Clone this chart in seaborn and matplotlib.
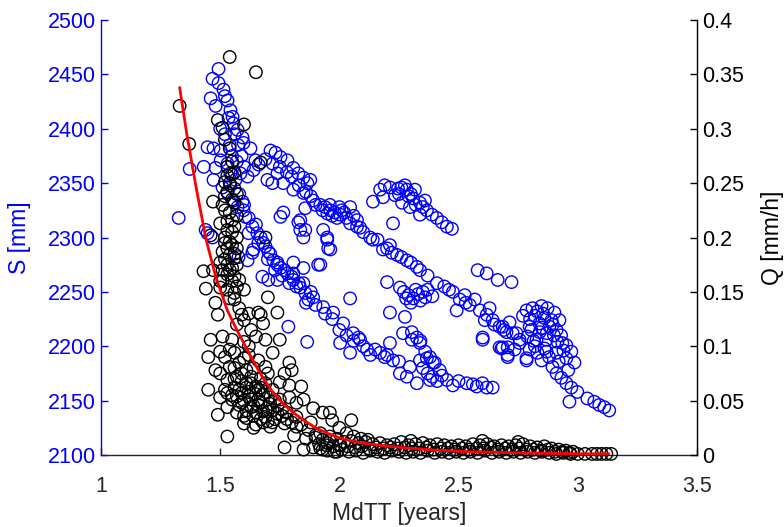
import matplotlib
matplotlib.use("Agg")
import matplotlib.pyplot as plt
from matplotlib.ticker import FormatStrFormatter
import numpy as np
import pandas as pd
import seaborn as sns

# ---- storage S [mm] versus median transit time (left axis) ----
peak_mdtt = [1.493, 1.468, 1.493, 1.514, 1.460, 1.481, 1.531, 1.543, 1.552, 1.556, 1.573, 1.594,
             1.598, 1.627, 1.648, 1.661, 1.447, 1.472, 1.502, 1.431, 1.481, 1.502, 1.531, 1.543,
             1.564, 1.585, 1.615, 1.640, 1.520, 1.535, 1.560, 1.575, 1.590, 1.600, 1.372, 1.326,
             1.500, 1.520, 1.540, 1.550, 1.570]
peak_s = [2455, 2446, 2442, 2436, 2428, 2421, 2426, 2417, 2411, 2405, 2399, 2392,
          2387, 2382, 2371, 2367, 2383, 2382, 2380, 2365, 2364, 2371, 2368, 2359,
          2353, 2359, 2356, 2362, 2430, 2410, 2395, 2385, 2375, 2365, 2363, 2318,
          2400, 2395, 2385, 2375, 2370]

upper_mdtt = [1.711, 1.732, 1.753, 1.782, 1.807, 1.828, 1.849, 1.866, 1.719, 1.740, 1.878, 1.890,
              1.920, 1.940, 1.962, 1.980, 2.003, 2.020, 2.045, 2.045, 2.074, 1.857, 1.836, 1.857,
              1.932, 1.949, 1.953, 1.911, 2.087, 2.074, 2.129, 2.183, 2.242, 2.283, 2.325, 2.212,
              2.160, 1.900, 1.930, 1.950, 1.970, 1.990, 2.010, 2.030, 2.060, 1.960, 2.000,
              1.690, 1.720, 1.750, 1.780, 1.800, 1.830, 1.860, 1.880, 2.100, 2.140, 2.200,
              2.260, 2.300, 2.220]
upper_s = [2380, 2378, 2374, 2371, 2364, 2359, 2355, 2350, 2350, 2359, 2353, 2334,
           2330, 2328, 2325, 2323, 2321, 2323, 2328, 2313, 2316, 2327, 2316, 2307,
           2307, 2300, 2290, 2275, 2309, 2310, 2300, 2289, 2284, 2279, 2273, 2293,
           2298, 2330, 2325, 2322, 2320, 2318, 2325, 2318, 2320, 2330, 2328,
           2372, 2368, 2365, 2360, 2356, 2348, 2342, 2338, 2305, 2298, 2290,
           2282, 2277, 2286]

ridge_mdtt = [2.141, 2.171, 2.183, 2.212, 2.246, 2.283, 2.309, 2.338, 2.367, 2.388, 2.409, 2.430,
              2.451, 2.472, 2.225, 2.263, 2.296, 2.338, 2.233, 2.275, 2.317, 2.359, 2.190, 2.250,
              2.290, 2.320, 2.260, 2.300, 2.350]
ridge_s = [2333, 2344, 2337, 2346, 2345, 2344, 2336, 2332, 2325, 2321, 2318, 2314,
           2310, 2308, 2313, 2332, 2328, 2321, 2339, 2348, 2344, 2334, 2348, 2340,
           2338, 2330, 2346, 2340, 2328]

middle_mdtt = [2.338, 2.409, 2.476, 2.505, 2.547, 2.589, 2.618, 2.643, 2.672, 2.701, 2.727, 2.756,
               2.492, 2.601, 2.672, 2.706, 2.580, 2.618, 2.664, 2.722, 2.526, 2.568, 2.630, 2.610,
               2.650, 2.370, 2.440, 2.460, 2.530, 2.690]
middle_s = [2270, 2258, 2250, 2243, 2238, 2233, 2229, 2224, 2218, 2213, 2212, 2206,
            2233, 2208, 2199, 2192, 2270, 2267, 2261, 2259, 2247, 2243, 2235, 2224,
            2220, 2265, 2255, 2252, 2240, 2215]

right_mdtt = [2.785, 2.810, 2.848, 2.873, 2.902, 2.923, 2.911, 2.881, 2.839, 2.798, 2.789, 2.827,
              2.869, 2.915, 2.952, 2.973, 2.986, 2.952, 2.911, 2.869, 2.831, 2.798, 2.785, 2.848,
              2.894, 2.911, 2.931, 2.952, 2.973, 2.998, 3.040, 3.069, 3.090, 3.111, 3.132, 2.965,
              2.714, 2.685, 2.743, 2.756, 2.706, 2.706, 2.680, 2.735, 2.820, 2.860, 2.890, 2.840,
              2.870, 2.900, 2.930, 2.940, 2.820, 2.860, 2.880, 2.920, 2.960, 2.800, 2.770,
              2.830, 2.855, 2.895, 2.935, 2.805, 2.815, 2.850]
right_s = [2233, 2235, 2237, 2235, 2231, 2224, 2215, 2218, 2221, 2218, 2209, 2206,
           2206, 2204, 2201, 2195, 2185, 2189, 2194, 2195, 2194, 2197, 2189, 2187,
           2181, 2175, 2171, 2166, 2162, 2158, 2152, 2149, 2146, 2144, 2141, 2149,
           2222, 2218, 2212, 2203, 2199, 2190, 2198, 2197, 2228, 2226, 2224, 2213,
           2212, 2210, 2210, 2196, 2200, 2198, 2190, 2186, 2178, 2225, 2228,
           2232, 2230, 2220, 2203, 2215, 2205, 2217]

lower_mdtt = [1.472, 1.531, 1.573, 1.606, 1.635, 1.656, 1.681, 1.702, 1.723, 1.753, 1.782, 1.807,
              1.836, 1.857, 1.870, 1.447, 1.468, 1.439, 1.577, 1.615, 1.635, 1.677, 1.702, 1.740,
              1.753, 1.765, 1.828, 1.836, 1.807, 1.849, 1.807, 1.849, 1.765, 1.698, 1.510, 1.543,
              1.556, 1.594, 1.598, 1.619, 1.640, 1.740, 1.807, 1.849, 1.890, 1.932, 1.974, 2.016,
              2.058, 2.087, 1.920, 2.045, 1.786, 1.865, 1.849, 1.949, 1.962, 2.003, 2.045, 2.116,
              2.171, 2.225, 2.254, 2.296, 2.338, 2.367, 2.392, 2.421, 2.325, 2.451, 2.476, 2.534,
              2.576, 2.618, 2.643, 2.212, 2.304, 2.338, 2.601, 2.685, 2.785, 2.380, 2.283, 1.660,
              1.700, 1.730, 1.760, 1.790, 1.820, 1.860, 1.880, 1.900, 1.940, 1.970, 2.000, 2.030,
              2.060, 2.100, 2.130, 2.190, 1.580, 1.600, 1.620, 1.650, 1.670, 1.690, 1.710, 1.740,
              1.770, 1.800, 1.830, 2.080, 2.150, 2.200, 2.250, 2.430, 2.500, 2.560, 2.600]
lower_s = [2353, 2341, 2328, 2319, 2310, 2304, 2295, 2287, 2279, 2272, 2267, 2261,
           2254, 2249, 2243, 2304, 2300, 2307, 2282, 2279, 2286, 2264, 2261, 2261,
           2319, 2323, 2314, 2307, 2277, 2272, 2344, 2341, 2350, 2353, 2346, 2348,
           2334, 2333, 2325, 2304, 2289, 2277, 2267, 2258, 2245, 2236, 2231, 2221,
           2212, 2206, 2275, 2244, 2218, 2204, 2300, 2298, 2289, 2203, 2194, 2197,
           2194, 2187, 2175, 2181, 2187, 2189, 2185, 2178, 2166, 2169, 2164, 2166,
           2163, 2162, 2162, 2203, 2206, 2203, 2206, 2199, 2187, 2169, 2172, 2295,
           2280, 2270, 2265, 2258, 2255, 2240, 2250, 2238, 2230, 2225, 2215, 2210,
           2205, 2200, 2192, 2190, 2340, 2330, 2318, 2312, 2300, 2292, 2285, 2275,
           2270, 2264, 2258, 2208, 2197, 2192, 2186, 2173, 2168, 2165, 2166]

blob_mdtt = [2.254, 2.270, 2.290, 2.310, 2.330, 2.350, 2.370, 2.390, 2.300, 2.340, 2.200, 2.212,
             2.275, 2.267, 2.304, 2.325, 2.340, 2.360, 2.380, 2.400, 2.350, 2.370, 2.390, 2.410,
             2.280, 2.320, 2.360]
blob_s = [2254, 2250, 2247, 2244, 2248, 2250, 2252, 2246, 2240, 2242, 2259, 2231,
          2227, 2212, 2213, 2208, 2205, 2195, 2190, 2185, 2180, 2175, 2172, 2168,
          2244, 2252, 2245]

# ---- discharge Q [mm/h] versus median transit time (right axis) ----
qcol_mdtt = [1.54, 1.65, 1.33, 1.49, 1.51, 1.60, 1.37, 1.54, 1.67, 1.53, 1.55, 1.52,
             1.53, 1.47, 1.51, 1.56, 1.54, 1.55, 1.50, 1.53, 1.55, 1.46, 1.69, 1.54,
             1.55, 1.51, 1.54, 1.56, 1.50, 1.53, 1.55, 1.51, 1.43, 1.47, 1.53, 1.56,
             1.58, 1.44, 1.50, 1.53, 1.56, 1.60, 1.54, 1.56, 1.48, 1.58, 1.62, 1.66,
             1.49, 1.74, 1.59, 1.60, 1.67, 1.68, 1.57, 1.63, 1.70, 1.52, 1.56, 1.52,
             1.57, 1.50, 1.57, 1.52, 1.55, 1.53, 1.56, 1.54, 1.57, 1.55, 1.52, 1.57,
             1.53, 1.56, 1.52, 1.57, 1.53, 1.56, 1.52, 1.54, 1.57, 1.55, 1.51]
qcol = [0.366, 0.352, 0.321, 0.308, 0.301, 0.304, 0.286, 0.282, 0.269, 0.257, 0.258, 0.251,
        0.242, 0.233, 0.230, 0.232, 0.223, 0.216, 0.213, 0.207, 0.205, 0.202, 0.200, 0.196,
        0.193, 0.187, 0.184, 0.181, 0.177, 0.175, 0.172, 0.170, 0.169, 0.170, 0.166, 0.164,
        0.161, 0.153, 0.154, 0.152, 0.149, 0.152, 0.144, 0.143, 0.140, 0.135, 0.130, 0.131,
        0.129, 0.131, 0.129, 0.124, 0.129, 0.121, 0.120, 0.115, 0.145, 0.238, 0.245, 0.195,
        0.190, 0.160, 0.155, 0.290, 0.270, 0.265, 0.260, 0.250, 0.240, 0.235, 0.225, 0.220,
        0.215, 0.210, 0.200, 0.200, 0.190, 0.185, 0.180, 0.170, 0.175, 0.160, 0.160]

qmid_mdtt = [1.46, 1.51, 1.55, 1.60, 1.65, 1.69, 1.75, 1.45, 1.54, 1.56, 1.60, 1.66,
             1.72, 1.48, 1.50, 1.54, 1.61, 1.69, 1.70, 1.79, 1.80, 1.77, 1.45, 1.53,
             1.57, 1.61, 1.65, 1.69, 1.75, 1.79, 1.84, 1.50, 1.53, 1.55, 1.59, 1.63,
             1.67, 1.71, 1.75, 1.79, 1.82, 1.85, 1.89, 1.53, 1.57, 1.61, 1.65, 1.69,
             1.72, 1.78, 1.82, 1.49, 1.93, 1.97, 1.60, 1.65, 1.71, 1.77, 1.82, 1.87,
             1.92, 1.96, 1.53, 1.77, 1.85, 1.89, 1.93, 1.99, 1.95, 2.00, 1.58, 1.62,
             1.63, 1.64, 1.66, 1.67, 1.58, 1.60, 1.62, 1.68, 1.70, 1.72, 1.74, 1.76,
             1.64, 1.67, 1.73, 1.80, 1.84, 1.88, 1.90, 1.86, 1.81, 1.56, 1.59, 1.52,
             1.56, 1.62, 1.52, 1.50, 1.59, 1.61, 1.63, 1.65, 1.67, 1.69, 1.71, 1.73,
             1.57, 1.59, 1.63, 1.66, 1.68, 1.70, 1.74, 1.76, 1.78, 1.60, 1.64, 1.68,
             1.72, 1.56, 1.62, 1.66, 1.70, 1.58, 1.64, 1.55, 1.61]
qmid = [0.106, 0.109, 0.106, 0.104, 0.109, 0.106, 0.106, 0.090, 0.097, 0.094, 0.089, 0.087,
        0.094, 0.078, 0.075, 0.081, 0.078, 0.081, 0.075, 0.085, 0.078, 0.075, 0.060, 0.069,
        0.072, 0.066, 0.063, 0.066, 0.067, 0.064, 0.063, 0.053, 0.057, 0.051, 0.057, 0.051,
        0.048, 0.053, 0.051, 0.053, 0.048, 0.051, 0.043, 0.044, 0.039, 0.041, 0.039, 0.035,
        0.041, 0.039, 0.035, 0.037, 0.039, 0.032, 0.029, 0.028, 0.026, 0.029, 0.026, 0.023,
        0.020, 0.017, 0.017, 0.007, 0.005, 0.007, 0.005, 0.003, 0.011, 0.009, 0.085, 0.092,
        0.072, 0.080, 0.060, 0.070, 0.060, 0.050, 0.058, 0.056, 0.044, 0.060, 0.045, 0.036,
        0.045, 0.033, 0.033, 0.030, 0.028, 0.030, 0.018, 0.015, 0.018, 0.062, 0.075, 0.060,
        0.080, 0.100, 0.090, 0.095, 0.068, 0.062, 0.066, 0.056, 0.062, 0.058, 0.047, 0.050,
        0.054, 0.048, 0.044, 0.046, 0.040, 0.040, 0.038, 0.042, 0.033, 0.036, 0.036, 0.030,
        0.030, 0.070, 0.054, 0.051, 0.031, 0.046, 0.025, 0.055, 0.034]

qtail_mdtt = [1.90, 1.93, 1.96, 1.99, 2.02, 2.05, 2.08, 2.11, 2.14, 2.17, 2.20, 2.23,
              2.26, 2.29, 2.32, 2.35, 2.38, 2.41, 2.44, 2.47, 2.50, 2.53, 2.56, 2.59,
              2.62, 2.65, 2.68, 2.71, 2.74, 2.77, 2.80, 2.83, 2.86, 2.89, 2.92, 2.95,
              2.98, 1.92, 1.95, 1.98, 2.01, 2.04, 2.07, 2.10, 2.13, 2.16, 2.19, 2.22,
              2.25, 2.28, 2.31, 2.34, 2.37, 2.40, 2.43, 2.46, 2.49, 2.52, 2.55, 2.58,
              2.61, 2.64, 2.67, 2.70, 2.73, 2.76, 2.79, 2.82, 2.85, 2.88, 2.91, 2.94,
              2.97, 3.00, 3.03, 3.06, 3.08, 3.10, 3.12, 3.14, 1.96, 2.05, 2.00, 2.03,
              2.06, 2.09, 2.12, 2.30, 2.60, 2.75, 1.915, 1.945, 1.975, 2.005, 2.035, 2.065,
              2.095, 2.125, 2.155, 2.185, 2.215, 2.245, 2.275, 2.305, 2.335, 2.365, 2.395, 2.425,
              2.455, 2.485, 2.515, 2.545, 2.575, 2.605, 2.635, 2.665, 2.695, 2.725, 2.755, 2.785,
              2.815, 2.845, 2.875, 2.905, 2.935, 2.965]
qtail = [0.016, 0.014, 0.013, 0.015, 0.012, 0.013, 0.011, 0.012, 0.010, 0.011, 0.009, 0.010,
         0.012, 0.009, 0.010, 0.011, 0.009, 0.010, 0.009, 0.008, 0.009, 0.008, 0.010, 0.009,
         0.010, 0.008, 0.009, 0.008, 0.009, 0.010, 0.008, 0.007, 0.008, 0.006, 0.005, 0.004,
         0.003, 0.006, 0.004, 0.003, 0.005, 0.003, 0.004, 0.002, 0.004, 0.003, 0.002, 0.004,
         0.003, 0.002, 0.003, 0.002, 0.004, 0.002, 0.003, 0.002, 0.003, 0.002, 0.003, 0.002,
         0.004, 0.002, 0.003, 0.002, 0.003, 0.002, 0.003, 0.002, 0.003, 0.002, 0.001, 0.002,
         0.001, 0.001, 0.001, 0.001, 0.001, 0.001, 0.001, 0.001, 0.039, 0.032, 0.025, 0.020,
         0.017, 0.015, 0.014, 0.013, 0.013, 0.012, 0.010, 0.009, 0.008, 0.009, 0.008, 0.007,
         0.008, 0.006, 0.007, 0.006, 0.007, 0.006, 0.007, 0.006, 0.006, 0.007, 0.005, 0.006,
         0.006, 0.005, 0.006, 0.005, 0.006, 0.006, 0.007, 0.005, 0.006, 0.005, 0.006, 0.005,
         0.005, 0.004, 0.005, 0.003, 0.003, 0.002]

# ---- fitted recession curve Q(MdTT) ----
fit_mdtt = [1.330, 1.360, 1.400, 1.440, 1.480, 1.530, 1.570, 1.606, 1.640, 1.676, 1.720, 1.760,
            1.801, 1.850, 1.900, 1.950, 2.003, 2.080, 2.171, 2.280, 2.380, 2.550, 2.800, 3.000,
            3.130]
fit_q = [0.338, 0.295, 0.245, 0.199, 0.165, 0.133, 0.115, 0.100, 0.086, 0.072, 0.058, 0.048,
         0.040, 0.032, 0.025, 0.020, 0.0155, 0.0115, 0.0090, 0.0065, 0.0048, 0.0030, 0.0018,
         0.0012, 0.0010]

x_ticks = [1, 1.5, 2, 2.5, 3, 3.5]
s_ticks = [2100, 2150, 2200, 2250, 2300, 2350, 2400, 2450, 2500]
q_ticks = [0, 0.05, 0.1, 0.15, 0.2, 0.25, 0.3, 0.35, 0.4]
q_ticklabels = ["0", "0.05", "0.1", "0.15", "0.2", "0.25", "0.3", "0.35", "0.4"]

storage = pd.DataFrame({
    "MdTT": peak_mdtt + upper_mdtt + ridge_mdtt + middle_mdtt + right_mdtt + lower_mdtt + blob_mdtt,
    "S": peak_s + upper_s + ridge_s + middle_s + right_s + lower_s + blob_s,
})
discharge = pd.DataFrame({
    "MdTT": qcol_mdtt + qmid_mdtt + qtail_mdtt,
    "Q": qcol + qmid + qtail,
})
fit = pd.DataFrame({"MdTT": fit_mdtt, "Q": fit_q})

sns.set_style("white")
plt.rcParams["font.family"] = ["Liberation Sans", "DejaVu Sans"]

fig = plt.figure(figsize=(7.84, 5.27), dpi=100)
ax = fig.add_axes([0.1288, 0.1366, 0.7602, 0.8254])
ax2 = ax.twinx()

BLUE = (0, 0, 1)
ring = dict(marker="o", s=80, facecolor="none", linewidth=1.0, legend=False)

sns.scatterplot(data=storage, x="MdTT", y="S", ax=ax, edgecolor=BLUE, **ring)
sns.scatterplot(data=discharge, x="MdTT", y="Q", ax=ax2, edgecolor="black",
                clip_on=False, zorder=3, **ring)
sns.lineplot(data=fit, x="MdTT", y="Q", ax=ax2, color="red", linewidth=2.0,
             sort=False, estimator=None, zorder=4)

ax.set_xlim(1, 3.5)
ax.set_ylim(2100, 2500)
ax2.set_ylim(0, 0.4)
ax.set_xticks(x_ticks)
ax.xaxis.set_major_formatter(FormatStrFormatter("%g"))
ax.set_yticks(s_ticks)
ax2.set_yticks(q_ticks)
ax2.set_yticklabels(q_ticklabels)

fs_tick, fs_label = 15.5, 16.5
ax.set_xlabel("MdTT [years]", fontsize=fs_label, color="#262626", labelpad=4)
ax.set_ylabel("S [mm]", fontsize=fs_label, color=BLUE, labelpad=12)
ax2.set_ylabel("Q [mm/h]", fontsize=fs_label, color="black", labelpad=12)
ax2.set_xlabel("")

for spine in ("top", "right"):
    ax.spines[spine].set_visible(False)
for spine in ("top", "left", "bottom"):
    ax2.spines[spine].set_visible(False)
ax.spines["left"].set_color(BLUE)
ax.spines["bottom"].set_color("#262626")
ax2.spines["right"].set_color("black")
for sp in (ax.spines["left"], ax.spines["bottom"], ax2.spines["right"]):
    sp.set_linewidth(1.0)

ax.tick_params(axis="x", direction="in", length=5, width=1.0, labelsize=fs_tick,
               colors="#262626", top=False, bottom=True, pad=15)
ax.tick_params(axis="y", direction="in", length=5, width=1.0, labelsize=fs_tick,
               colors=BLUE, left=True, right=False)
ax2.tick_params(axis="y", direction="in", length=5, width=1.0, labelsize=fs_tick,
                colors="black", right=True, left=False)

fig.savefig("out.png", dpi=100)
